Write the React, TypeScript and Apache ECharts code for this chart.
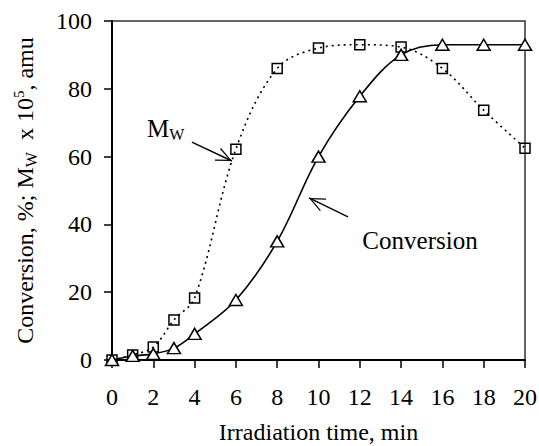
import React, { useEffect, useRef } from 'react';
import * as echarts from 'echarts';

const timeMin = [0, 1, 2, 3, 4, 6, 8, 10, 12, 14, 16, 18, 20];
const conversion = [0, 1.2, 1.8, 3.5, 7.7, 17.7, 35, 60, 77.8, 90, 93, 93, 93];
const mw = [0, 1.5, 3.8, 11.8, 18.3, 62.2, 86, 92, 93, 92.3, 86, 73.7, 62.5];
const xTicks = [0, 2, 4, 6, 8, 10, 12, 14, 16, 18, 20];
const yTicks = [0, 20, 40, 60, 80, 100];
const mwArrow = [[3.87, 64.3], [5.81, 58.7]];
const convArrow = [[11.43, 42.2], [9.54, 47.8]];

const FONT = '"Liberation Serif", "Times New Roman", serif';
const ARROW =
  'path://M7.2,-15.9 L7.21,-15.9 L7.2,-15.9 Z M0,15.4 L7.2,0 L14.4,15.4 L13.2,15.9 L7.2,2.8 L1.2,15.9 Z';

export default function App() {
  const ref = useRef<HTMLDivElement>(null);
  useEffect(() => {
    if (!ref.current) return;
    const chart = echarts.init(ref.current, undefined, { renderer: 'svg' });
    const pairs = (ys: number[]) => timeMin.map((x, i) => [x, ys[i]]);
    chart.setOption({
      animation: false,
      backgroundColor: '#fff',
      grid: {
        left: 112,
        right: 14,
        top: 21,
        bottom: 86,
        containLabel: false,
        outerBoundsMode: 'none',
        show: true,
        borderColor: '#333',
        borderWidth: 1.5,
        backgroundColor: 'transparent',
      },
      xAxis: {
        type: 'value',
        min: xTicks[0],
        max: xTicks[xTicks.length - 1],
        interval: xTicks[1] - xTicks[0],
        name: 'Irradiation time, min',
        nameLocation: 'middle',
        nameGap: 60,
        nameTextStyle: { fontFamily: FONT, fontSize: 24, color: '#000', lineHeight: 24 },
        axisLine: { lineStyle: { color: '#000', width: 2 } },
        axisTick: { length: 8, lineStyle: { color: '#000', width: 1.5 } },
        axisLabel: { fontFamily: FONT, fontSize: 24, color: '#000', margin: 25 },
        splitLine: { show: false },
      },
      yAxis: {
        type: 'value',
        min: yTicks[0],
        max: yTicks[yTicks.length - 1],
        interval: yTicks[1] - yTicks[0],
        name: '{a|Conversion, %; M}{s|W}{a|  x 10}{p|5}{a|, amu}',
        nameLocation: 'middle',
        nameRotate: 90,
        nameGap: 73,
        nameTextStyle: {
          fontFamily: FONT,
          fontSize: 24,
          color: '#000',
          rich: {
            a: { fontFamily: FONT, fontSize: 24, color: '#000', lineHeight: 28 },
            s: { fontFamily: FONT, fontSize: 16, color: '#000', lineHeight: 16, verticalAlign: 'bottom' },
            p: { fontFamily: FONT, fontSize: 15, color: '#000', lineHeight: 15, verticalAlign: 'top' },
          },
        },
        axisLine: { show: true, lineStyle: { color: '#000', width: 2 } },
        axisTick: { show: true, length: 8, lineStyle: { color: '#000', width: 1.5 } },
        axisLabel: { fontFamily: FONT, fontSize: 24, color: '#000', margin: 20 },
        splitLine: { show: false },
      },
      series: [
        {
          name: 'Mw',
          type: 'line',
          data: pairs(mw),
          smooth: 0.35,
          symbol: 'rect',
          symbolSize: 10,
          itemStyle: { color: 'rgba(255,255,255,0)', borderColor: '#000', borderWidth: 1.5 },
          lineStyle: { color: '#000', width: 1.6, type: [2, 4] },
          markLine: {
            silent: true,
            animation: false,
            symbol: ['none', ARROW],
            symbolSize: [14, 32],
            label: { show: false },
            lineStyle: { color: '#000', width: 1.4, type: 'solid' },
            data: [
              [{ coord: mwArrow[0] }, { coord: mwArrow[1] }],
              [{ coord: convArrow[0] }, { coord: convArrow[1] }],
            ],
          },
          z: 2,
        },
        {
          name: 'Conversion',
          type: 'line',
          data: pairs(conversion),
          smooth: 0.35,
          symbol: 'triangle',
          symbolSize: [13, 11],
          itemStyle: { color: '#fff', borderColor: '#000', borderWidth: 1.5 },
          lineStyle: { color: '#000', width: 1.6 },
          z: 3,
        },
      ],
      graphic: [
        {
          type: 'text',
          x: 147,
          y: 128,
          style: {
            text: '{m|M}{w|W}',
            align: 'left',
            verticalAlign: 'middle',
            rich: {
              m: { fontFamily: FONT, fontSize: 25, fill: '#000', lineHeight: 28 },
              w: { fontFamily: FONT, fontSize: 16, fill: '#000', lineHeight: 16, verticalAlign: 'bottom' },
            },
          },
        },
        {
          type: 'text',
          x: 420,
          y: 240,
          style: {
            text: 'Conversion',
            font: `25px ${FONT}`,
            fill: '#000',
            align: 'center',
            verticalAlign: 'middle',
          },
        },
      ],
    });
    return () => chart.dispose();
  }, []);
  return (
    <div
      ref={ref}
      style={{ position: 'absolute', left: 0, top: 0, width: 539, height: 446 }}
    />
  );
}
